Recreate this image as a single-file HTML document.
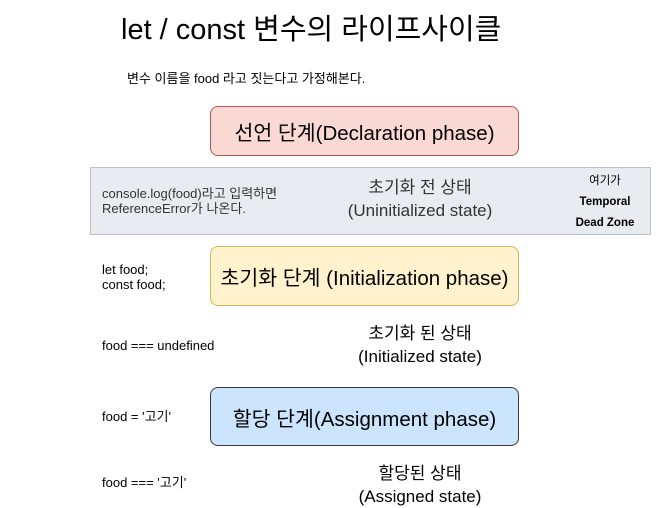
<!DOCTYPE html>
<html><head><meta charset="utf-8"><style>
body{margin:0;width:661px;height:505px;background:#fff;position:relative;overflow:hidden;font-family:"Liberation Sans","Noto Sans CJK KR",sans-serif;color:#000}
.a{position:absolute;white-space:nowrap}
.box{position:absolute;left:210px;width:309px;border-radius:8px;display:flex;align-items:center;justify-content:center;font-size:20.5px;box-sizing:border-box}
.c{text-align:center;font-size:17px;line-height:23px}
.s{font-size:13px;line-height:15px}
</style></head><body>
<div class="a" style="left:121px;top:12px;font-size:29px;line-height:36px">let / const 변수의 라이프사이클</div>
<div class="a" style="left:127px;top:68px;font-size:13px">변수 이름을 food 라고 짓는다고 가정해본다.</div>
<div class="box" style="top:106px;height:50px;background:#fad9d5;border:1px solid #b85450">선언 단계(Declaration phase)</div>
<div class="a" style="left:90px;top:167px;width:561px;height:68px;background:#e8ebf0;border:1px solid #b9c1cc;box-sizing:border-box"></div>
<div class="a s" style="left:102px;top:186px;color:#333">console.log(food)라고 입력하면<br>ReferenceError가 나온다.</div>
<div class="a c" style="left:320px;width:200px;top:176px;color:#333">초기화 전 상태<br>(Uninitialized state)</div>
<div class="a" style="left:560px;width:90px;top:171px;text-align:center;font-size:11.5px;line-height:21px">여기가<br><b>Temporal</b><br><b>Dead Zone</b></div>
<div class="box" style="top:246px;height:60px;background:#fff2cc;border:1px solid #d6b656">초기화 단계 (Initialization phase)</div>
<div class="a s" style="left:102px;top:262px">let food;<br>const food;</div>
<div class="a s" style="left:102px;top:338px">food === undefined</div>
<div class="a c" style="left:320px;width:200px;top:322px">초기화 된 상태<br>(Initialized state)</div>
<div class="box" style="top:387px;height:59px;background:#cce5ff;border:1px solid #36393d">할당 단계(Assignment phase)</div>
<div class="a s" style="left:102px;top:409px">food = '고기'</div>
<div class="a s" style="left:102px;top:475px">food === '고기'</div>
<div class="a c" style="left:320px;width:200px;top:462px">할당된 상태<br>(Assigned state)</div>
</body></html>
